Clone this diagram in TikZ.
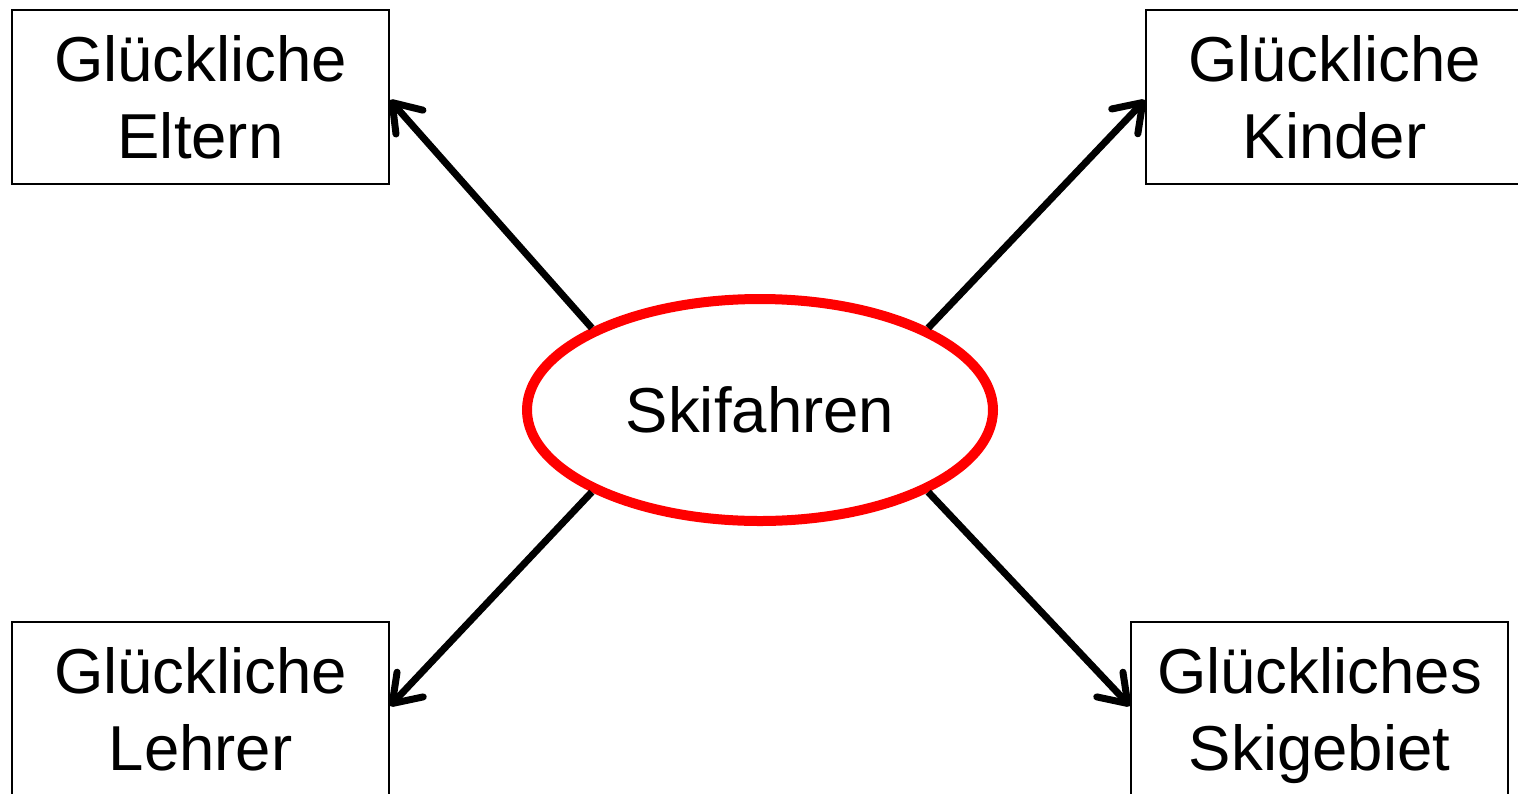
\documentclass[tikz,border=0pt]{standalone}
\usepackage{fontspec}
\setmainfont{Liberation Sans}
\usetikzlibrary{arrows.meta,shapes.geometric}
\begin{document}
\begin{tikzpicture}[x=1pt,y=-1pt,
  box/.style={draw=black,line width=1.8pt,rectangle,minimum width=377pt,minimum height=174pt,inner sep=0pt,align=center,text depth=0pt,font=\fontsize{63.5}{77}\selectfont},
  hub/.style={draw=red,line width=10pt,ellipse,minimum width=466pt,minimum height=222pt,inner sep=0pt,font=\fontsize{63.5}{77}\selectfont},
  conn/.style={line width=7pt,-{Straight Barb[length=26pt,width=36pt,line cap=round,round]}}]
\useasboundingbox (0,0) rectangle (1518,793);
\node[hub] (e) at (760,410) {Skifahren};
\node[box] (tl) at (200.5,97) {Glückliche\\Eltern};
\node[box] (tr) at (1334.5,97) {Glückliche\\Kinder};
\node[box] (bl) at (200.5,709) {Glückliche\\Lehrer};
\node[box] (br) at (1319.5,709) {Glückliches\\Skigebiet};
\draw[conn] (e.154) -- ([yshift=-3pt]tl.east);
\draw[conn] (e.26) -- ([yshift=-3pt]tr.west);
\draw[conn] (e.206) -- ([yshift=3pt]bl.east);
\draw[conn] (e.334) -- ([yshift=3pt]br.west);
\end{tikzpicture}
\end{document}
